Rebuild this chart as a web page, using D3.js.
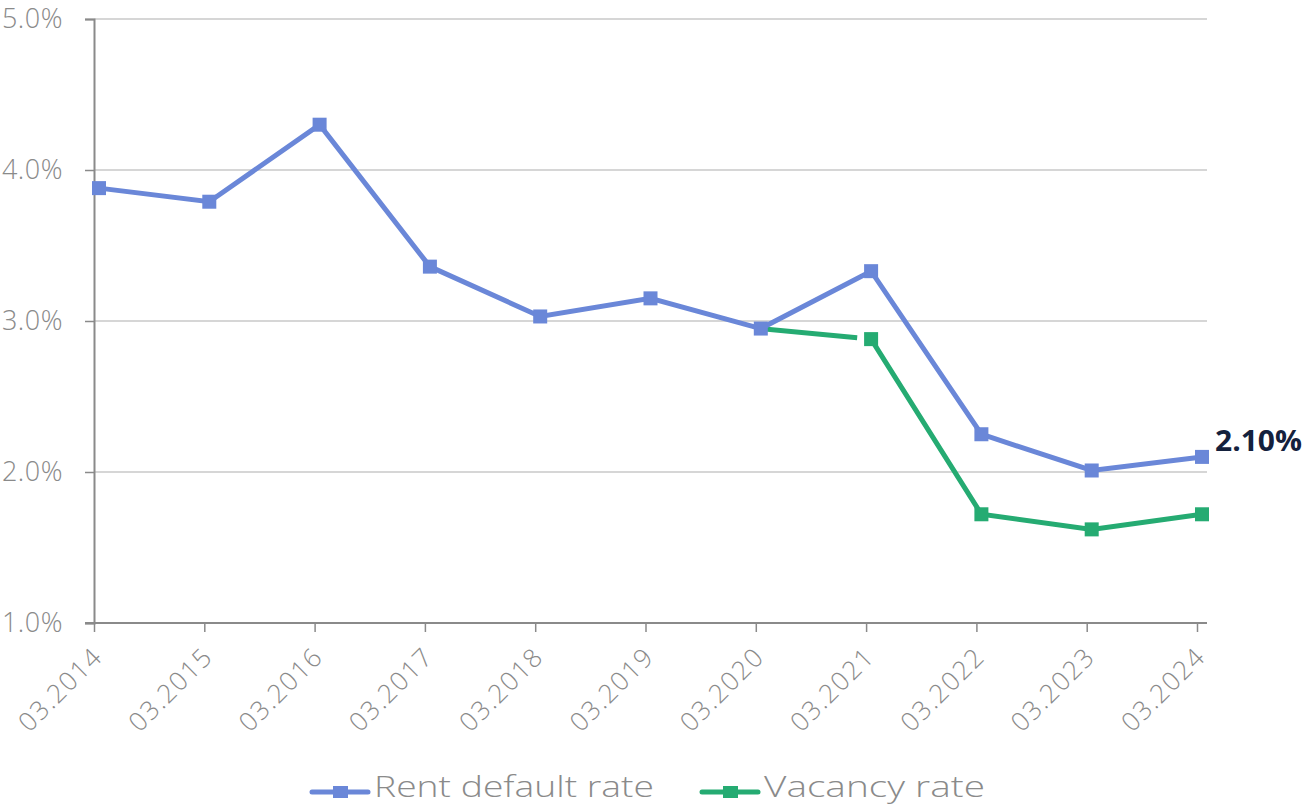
<!DOCTYPE html>
<html lang="en">
	<head>
		<meta charset="utf-8">
		<title>Rent default and vacancy rate</title>
		<script type="text/javascript" src="https://d3js.org/d3.v7.min.js"></script>
		<style type="text/css">
			body { margin: 0; background: #fff; }
			text { font-family: "Open Sans", Lato, sans-serif; }
		</style>
	</head>
	<body>
		<script type="text/javascript">

			//Data
			var periods = ["03.2014", "03.2015", "03.2016", "03.2017", "03.2018", "03.2019", "03.2020", "03.2021", "03.2022", "03.2023", "03.2024"];
			var rentDefault = [3.88, 3.79, 4.30, 3.36, 3.03, 3.15, 2.95, 3.33, 2.25, 2.01, 2.10];
			var vacancy = [null, null, null, null, null, null, 2.95, 2.88, 1.72, 1.62, 1.72];
			var yTicks = [1, 2, 3, 4, 5];

			//Width and height
			var w = 1304;
			var h = 806;
			var mLeft = 94, mRight = 1207, mTop = 19, mBottom = 623;

			var blue = "#6a87d8";
			var green = "#25ab72";
			var grey = "#8a8a8a";

			var svg = d3.select("body")
						.append("svg")
						.attr("width", w)
						.attr("height", h);

			//scales
			var x = d3.scalePoint().domain(periods).range([mLeft, 1197]);
			var y = d3.scaleLinear().domain([1, 5]).range([mBottom, mTop]);
			var shift = 5; //points sit a little right of the tick marks

			//gridlines
			svg.append("g")
				.selectAll("line")
				.data(yTicks.slice(1))
				.enter()
				.append("line")
				.attr("x1", mLeft).attr("x2", mRight)
				.attr("y1", function(d) { return y(d); })
				.attr("y2", function(d) { return y(d); })
				.style("stroke", "#c8c8c8")
				.style("stroke-width", 1.5);

			//y axis
			var yAxis = svg.append("g")
				.attr("transform", "translate(" + mLeft + ",0)")
				.call(d3.axisLeft(y).tickValues(yTicks).tickSize(9)
					.tickFormat(function(d) { return d3.format(".1f")(d) + "%"; }));
			yAxis.select(".domain").style("stroke", grey).style("stroke-width", 2);
			yAxis.selectAll(".tick line").style("stroke", grey).style("stroke-width", 1.5);
			yAxis.selectAll("text")
				.style("font-size", "27px")
				.style("font-weight", 300)
				.style("letter-spacing", "0.5px")
				.style("fill", grey)
				.attr("x", -31);

			//x axis
			var xAxis = svg.append("g")
				.attr("transform", "translate(0," + mBottom + ")")
				.call(d3.axisBottom(x).tickSize(9).tickSizeOuter(0));
			xAxis.select(".domain").attr("d", "M" + (mLeft - 9) + ",0H" + mRight)
				.style("stroke", grey).style("stroke-width", 2);
			xAxis.selectAll(".tick line").style("stroke", grey).style("stroke-width", 1.5);
			xAxis.selectAll("text")
				.style("font-size", "26px")
				.style("font-weight", 300)
				.style("letter-spacing", "1.5px")
				.style("fill", grey)
				.style("text-anchor", "end")
				.attr("y", 0).attr("dy", "0.35em")
				.attr("transform", "translate(3,29) rotate(-45)");

			//lines
			var line = d3.line()
				.defined(function(d) { return d != null; })
				.x(function(d, i) { return x(periods[i]) + shift; })
				.y(function(d) { return y(d); });

			var plot = svg.append("g");

			//vacancy: first segment stops short of the 2021 marker
			var firstVac = vacancy.findIndex(function(d) { return d != null; });
			var seg = plot.append("path")
				.datum(vacancy.map(function(d, i) { return (i == firstVac || i == firstVac + 1) ? d : null; }))
				.attr("d", line)
				.style("fill", "none")
				.style("stroke", green)
				.style("stroke-width", 5);
			var segLen = seg.node().getTotalLength();
			seg.style("stroke-dasharray", (segLen - 14) + "," + 20);

			plot.append("path")
				.datum(vacancy.map(function(d, i) { return i > firstVac ? d : null; }))
				.attr("d", line)
				.style("fill", "none")
				.style("stroke", green)
				.style("stroke-width", 5);

			plot.selectAll(".vac")
				.data(vacancy.map(function(d, i) { return {v: d, i: i}; })
					.filter(function(d) { return d.v != null && d.i > firstVac; }))
				.enter()
				.append("rect")
				.attr("class", "vac")
				.attr("x", function(d) { return x(periods[d.i]) + shift - 7; })
				.attr("y", function(d) { return y(d.v) - 7; })
				.attr("width", 14).attr("height", 14)
				.style("fill", green);

			plot.append("path")
				.datum(rentDefault)
				.attr("d", line)
				.style("fill", "none")
				.style("stroke", blue)
				.style("stroke-width", 5);

			plot.selectAll(".rent")
				.data(rentDefault)
				.enter()
				.append("rect")
				.attr("class", "rent")
				.attr("x", function(d, i) { return x(periods[i]) + shift - 7; })
				.attr("y", function(d) { return y(d) - 7; })
				.attr("width", 14).attr("height", 14)
				.style("fill", blue);

			//last value label
			var last = rentDefault.length - 1;
			svg.append("text")
				.attr("x", x(periods[last]) + shift + 13)
				.attr("y", y(rentDefault[last]) - 6)
				.attr("textLength", 87)
				.attr("lengthAdjust", "spacingAndGlyphs")
				.text(d3.format(".2f")(rentDefault[last]) + "%")
				.style("font-size", "28px")
				.style("font-weight", 700)
				.style("fill", "#14213d");

			//legend
			var legendItems = [
				{name: "Rent default rate", color: blue, x: 312, len: 280},
				{name: "Vacancy rate", color: green, x: 702, len: 221}
			];
			var lg = svg.selectAll(".legend")
				.data(legendItems)
				.enter()
				.append("g")
				.attr("class", "legend")
				.attr("transform", function(d) { return "translate(" + d.x + ",792)"; });
			lg.append("line")
				.attr("x1", 0).attr("x2", 56)
				.style("stroke", function(d) { return d.color; })
				.style("stroke-width", 5)
				.style("stroke-linecap", "round");
			lg.append("rect")
				.attr("x", 21).attr("y", -6)
				.attr("width", 15).attr("height", 12)
				.style("fill", function(d) { return d.color; });
			lg.append("text")
				.attr("x", 62)
				.attr("y", 5)
				.attr("textLength", function(d) { return d.len; })
				.attr("lengthAdjust", "spacingAndGlyphs")
				.text(function(d) { return d.name; })
				.style("font-size", "29px")
				.style("font-weight", 300)
				.style("fill", grey);

		</script>
	</body>
</html>
